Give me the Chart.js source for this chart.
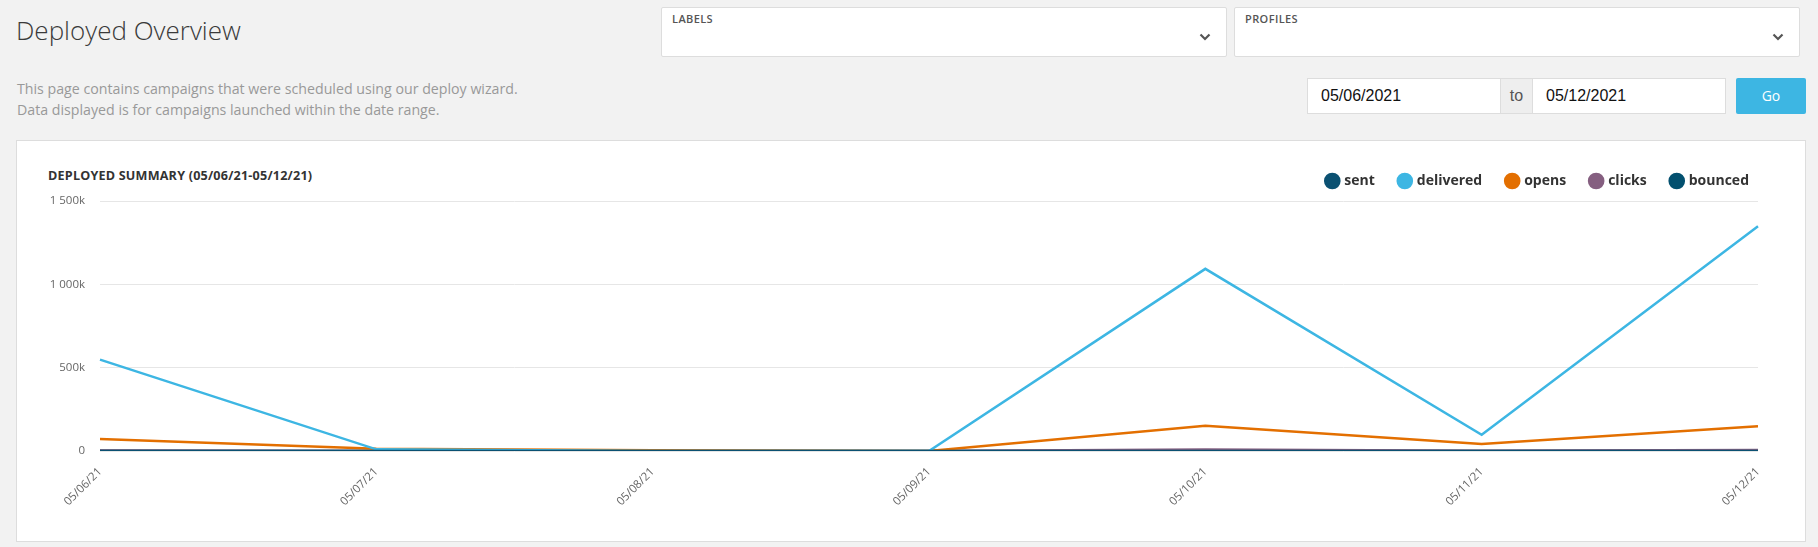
<!DOCTYPE html>
<html>
<head>
<meta charset="utf-8">
<script src="https://cdn.jsdelivr.net/npm/chart.js@4.4.0/dist/chart.umd.min.js"></script>
<style>
html,body{margin:0;padding:0;}
body{width:1818px;height:547px;background:#f2f2f2;position:relative;overflow:hidden;font-family:"Open Sans",sans-serif;}
.h1{position:absolute;left:16px;top:12px;font-size:26px;font-weight:300;color:#3a3a3a;line-height:36px;white-space:nowrap;}
.desc{position:absolute;left:17px;top:78px;font-size:14.2px;color:#999;line-height:21px;white-space:nowrap;}
.sel{position:absolute;top:7px;width:566px;height:50px;box-sizing:border-box;background:#fff;border:1px solid #ddd;border-radius:2px;}
.sel .lab{position:absolute;left:10px;top:3px;font-size:11px;color:#555;font-weight:600;letter-spacing:0.4px;}
.sel svg{position:absolute;left:537px;top:25px;}
.inp{position:absolute;top:78px;height:36px;box-sizing:border-box;background:#fff;border:1px solid #ddd;font-family:"Liberation Sans",Arial,sans-serif;font-size:16px;color:#111;line-height:34px;padding-left:13px;}
.addon{position:absolute;top:78px;height:36px;box-sizing:border-box;background:#eee;border:1px solid #ddd;font-family:"Liberation Sans",Arial,sans-serif;font-size:16px;color:#555;line-height:34px;text-align:center;}
.go{position:absolute;left:1736px;top:78px;width:70px;height:36px;background:#3db6e3;border-radius:2px;color:#fff;font-size:14px;line-height:36px;text-align:center;}
.card{position:absolute;left:16px;top:140px;width:1790px;height:402px;box-sizing:border-box;background:#fff;border:1px solid #ddd;}
.ctitle{position:absolute;left:48px;top:167px;font-size:12.6px;font-weight:700;color:#333;line-height:18px;white-space:nowrap;letter-spacing:0.2px;}
#wrap{position:absolute;left:17px;top:141px;width:1787px;height:399px;}
</style>
</head>
<body>
<div class="h1">Deployed Overview</div>
<div class="desc">This page contains campaigns that were scheduled using our deploy wizard.<br>Data displayed is for campaigns launched within the date range.</div>
<div class="sel" style="left:661px;"><div class="lab">LABELS</div><svg width="12" height="8" viewBox="0 0 12 8"><polyline points="1.5,1.5 6,6 10.5,1.5" fill="none" stroke="#555" stroke-width="2.2"/></svg></div>
<div class="sel" style="left:1234px;"><div class="lab">PROFILES</div><svg width="12" height="8" viewBox="0 0 12 8"><polyline points="1.5,1.5 6,6 10.5,1.5" fill="none" stroke="#555" stroke-width="2.2"/></svg></div>
<div class="inp" style="left:1307px;width:194px;">05/06/2021</div>
<div class="addon" style="left:1500px;width:33px;">to</div>
<div class="inp" style="left:1532px;width:194px;">05/12/2021</div>
<div class="go">Go</div>
<div class="card"></div>
<div class="ctitle">DEPLOYED SUMMARY (05/06/21-05/12/21)</div>
<div id="wrap"><canvas id="c"></canvas></div>
<script>
const categories = ['05/06/21','05/07/21','05/08/21','05/09/21','05/10/21','05/11/21','05/12/21'];
const sent      = [0, 0, 0, 0, 0, 0, 0];
const delivered = [548000, 10000, 0, 0, 1093000, 97000, 1349000];
const opens     = [72000, 13000, 5000, 0, 152000, 42000, 149000];
const clicks    = [3000, 500, 0, 0, 9000, 2000, 6000];
const bounced   = [1000, 200, 0, 0, 3000, 500, 2500];
const yTickValues = [0, 500000, 1000000, 1500000];
const yTickLabels = ['0', '500k', '1 000k', '1 500k'];

const seriesNames = ['sent','delivered','opens','clicks','bounced'];
const seriesData = [sent, delivered, opens, clicks, bounced];
const seriesColors = ['#0b5172','#3db6e3','#e36f00','#855f80','#03506f'];

const datasets = seriesNames.map((n,i)=>({
  label: n,
  data: seriesData[i],
  borderColor: seriesColors[i],
  backgroundColor: seriesColors[i],
  borderWidth: 2.5,
  pointRadius: 0,
  pointHoverRadius: 0,
  tension: 0,
  fill: false
}));

const legendShift = {
  id: 'legendShift',
  afterLayout(chart) {
    const l = chart.legend;
    if (l) { l.left += 16; l.right += 16; l.top -= 3; l.bottom -= 3; }
  }
};

new Chart(document.getElementById('c'), {
  type: 'line',
  data: { labels: categories, datasets },
  plugins: [legendShift],
  options: {
    responsive: true,
    maintainAspectRatio: false,
    animation: false,
    layout: { padding: { left: 0, right: 46, top: 11, bottom: 0 } },
    plugins: {
      tooltip: { enabled: false },
      legend: {
        position: 'top',
        align: 'end',
        labels: {
          usePointStyle: true,
          pointStyle: 'circle',
          boxWidth: 10,
          boxHeight: 10,
          padding: 25,
          color: '#333',
          font: { family: '"Open Sans", sans-serif', size: 14, weight: 'bold' }
        }
      }
    },
    scales: {
      x: {
        grid: { display: false },
        border: { display: false },
        ticks: {
          color: '#666',
          font: { family: '"Open Sans", sans-serif', size: 11.5 },
          maxRotation: 45,
          minRotation: 45,
          autoSkip: false,
          padding: 6
        },
        afterFit: (s) => { s.height = 89; }
      },
      y: {
        min: 0,
        max: 1500000,
        grid: { color: '#e6e6e6', lineWidth: 1, drawTicks: false },
        border: { display: false },
        afterBuildTicks: (s) => { s.ticks = yTickValues.map(v => ({ value: v })); },
        ticks: {
          color: '#666',
          font: { family: '"Open Sans", sans-serif', size: 11.5 },
          padding: 15,
          callback: (v) => { const i = yTickValues.indexOf(v); return i >= 0 ? yTickLabels[i] : ''; }
        },
        afterFit: (s) => { s.width = 83; }
      }
    }
  }
});
</script>
</body>
</html>
